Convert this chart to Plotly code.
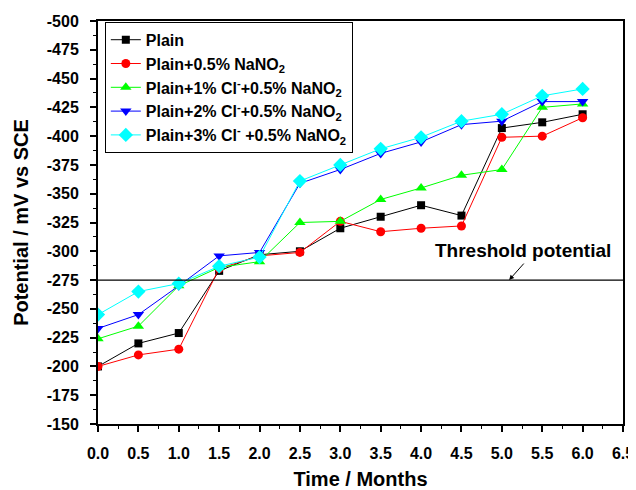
import plotly.graph_objects as go

months = [0.0, 0.5, 1.0, 1.5, 2.0, 2.5, 3.0, 3.5, 4.0, 4.5, 5.0, 5.5, 6.0]
plain = [-200, -220, -229, -283, -297, -300, -320, -330, -340, -331, -407, -412, -419]
plain_nano2 = [-200, -210, -215, -285, -296, -299, -326, -317, -320, -322, -399, -400, -416]
cl1_nano2 = [-224, -235, -270, -286, -291, -325, -326, -345, -355, -366, -371, -425, -428]
cl2_nano2 = [-233, -245, -270, -296, -299, -359, -371, -385, -395, -410, -413, -430, -430]
cl3_nano2 = [-245, -265, -272, -287, -295, -361, -375, -389, -399, -413, -419, -435, -441]
threshold = -275

y_tick_vals = [-500, -475, -450, -425, -400, -375, -350, -325, -300, -275, -250, -225, -200, -175, -150]
y_tick_labels = ["-500", "-475", "-450", "-425", "-400", "-375", "-350", "-325", "-300",
                 "-275", "-250", "-225", "-200", "-175", "-150"]

series_names = [
    "Plain",
    "Plain+0.5% NaNO<sub>2</sub>",
    "Plain+1% Cl<sup>-</sup>+0.5% NaNO<sub>2</sub>",
    "Plain+2% Cl<sup>-</sup>+0.5% NaNO<sub>2</sub>",
    "Plain+3% Cl<sup>-</sup> +0.5% NaNO<sub>2</sub>",
]
series_values = [plain, plain_nano2, cl1_nano2, cl2_nano2, cl3_nano2]
colors = ["#000000", "#ff0000", "#00ff00", "#0000ff", "#00ffff"]
symbols = ["square", "circle", "triangle-up", "triangle-down", "diamond"]
sizes = [8, 9, 10, 10, 11]

FONT = "Liberation Sans, Arial, sans-serif"

fig = go.Figure()
for name, vals, c, s, sz in zip(series_names, series_values, colors, symbols, sizes):
    fig.add_trace(go.Scatter(
        x=months, y=vals, name=name, mode="lines+markers",
        line=dict(color=c, width=1),
        marker=dict(symbol=s, size=sz, color=c, line=dict(width=0)),
    ))

fig.add_shape(type="line", xref="paper", x0=0, x1=1, yref="y", y0=threshold, y1=threshold,
              line=dict(color="black", width=1.3))

fig.add_annotation(x=5.26, y=-300.5, text="Threshold potential", showarrow=False,
                   font=dict(family=FONT, size=19, color="black", weight="bold"))
fig.add_annotation(x=5.09, y=threshold, ax=16, ay=-18, text="", showarrow=True,
                   arrowhead=2, arrowsize=1, arrowwidth=1, arrowcolor="black")

# page body has an 8px margin, so the figure is sized to fit the 636x490 window
fig.update_layout(
    width=628, height=482,
    margin=dict(l=90, r=13, t=13, b=66),
    paper_bgcolor="white", plot_bgcolor="white",
    font=dict(family=FONT, color="black", weight="bold"),
    showlegend=True,
    legend=dict(
        x=0.013, y=0.998, xanchor="left", yanchor="top",
        bgcolor="white", bordercolor="black", borderwidth=1,
        font=dict(family=FONT, size=16, color="black", weight="bold"),
    ),
    xaxis=dict(
        range=[0, 6.5], dtick=0.5, tick0=0, tickformat=".1f",
        automargin=False,
        showgrid=False, zeroline=False,
        showline=True, linecolor="black", linewidth=2, mirror=True,
        ticks="outside", ticklen=6, tickwidth=1.5, tickcolor="black",
        minor=dict(dtick=0.25, ticks="outside", ticklen=3, tickcolor="black", tickwidth=1),
        tickfont=dict(family=FONT, size=16, weight="bold"),
        ticklabelstandoff=8,
        title=dict(text="Time / Months", font=dict(family=FONT, size=20, weight="bold"), standoff=19),
    ),
    yaxis=dict(
        range=[-150, -500], tickmode="array", tickvals=y_tick_vals, ticktext=y_tick_labels,
        automargin=False,
        showgrid=False, zeroline=False,
        showline=True, linecolor="black", linewidth=2, mirror=True,
        ticks="outside", ticklen=6, tickwidth=1.5, tickcolor="black",
        minor=dict(dtick=12.5, tick0=-500, ticks="outside", ticklen=3, tickcolor="black", tickwidth=1),
        tickfont=dict(family=FONT, size=16, weight="bold"),
        ticklabelstandoff=8,
        title=dict(text="Potential / mV vs SCE", font=dict(family=FONT, size=20, weight="bold"), standoff=13),
    ),
)

fig.write_html("out.html")
